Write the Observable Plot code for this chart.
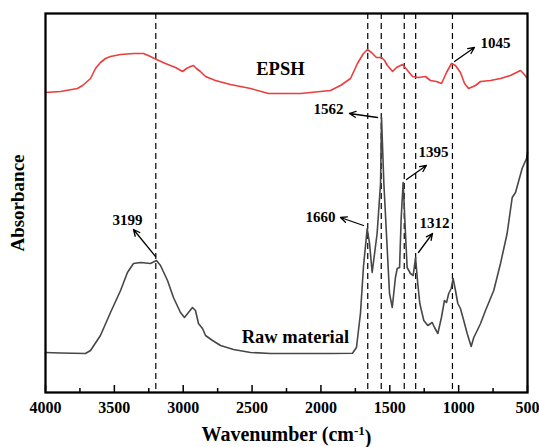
<!DOCTYPE html>
<html>
<head>
<meta charset="utf-8">
<script src="https://cdn.jsdelivr.net/npm/d3@7"></script>
<script src="https://cdn.jsdelivr.net/npm/@observablehq/plot@0.6"></script>
<style>
  html, body { margin: 0; padding: 0; background: #fff; }
  #chart svg { display: block; }
</style>
</head>
<body>
<div id="chart"></div>
<script>
// Wavenumber (cm-1) and absorbance (arbitrary units)
const epshWn = [4000,3891,3768,3731,3673,3637,3601,3564,3528,3455,3361,3288,3238,3194,3129,3056,3005,2976,2947,2925,2904,2875,2838,2766,2657,2511,2381,2148,1931,1858,1785,1735,1691,1662,1633,1597,1560,1538,1517,1480,1451,1408,1371,1335,1292,1241,1204,1161,1124,1088,1052,1023,987,957,928,878,841,769,696,624,551,529,500];
const epshAbs = [300,301,304,307,314,324,330,334,336,338,339,339,336,333,329,325,321,324,326,327,324,321,316,312,308,304,299,299,302,307,314,329,339,343,340,335,335,332,327,321,325,328,322,316,315,316,312,311,309,320,329,327,320,309,304,307,311,312,314,317,322,319,314];

const rawWn = [4000,3891,3710,3673,3601,3528,3455,3405,3361,3310,3238,3194,3165,3114,3071,3020,2991,2962,2933,2911,2889,2860,2838,2787,2729,2635,2511,2366,2148,1931,1771,1742,1713,1691,1664,1647,1628,1592,1567,1560,1543,1518,1502,1482,1459,1446,1429,1417,1403,1386,1374,1350,1330,1313,1297,1282,1253,1224,1192,1175,1151,1125,1103,1088,1072,1054,1040,1023,1006,987,963,938,909,890,865,841,805,745,696,648,611,587,563,539,507,500];
const rawAbs = [40,39.5,39,42,57,80,102,120,129,130,129,132,127,112,95,80,75,80,85,82,69,64,57,52,47,43,40,39,39,39,39.3,45,79,126,164,149,120,159,209,275,209,142,99,85,115,124,125,175,210,159,125,119,117,135,109,89,72,67,70,65,59,75,92,90,99,104,114,102,89,84,72,59,46,55,62,69,82,102,129,159,195,200,212,224,234,240];

const peakLines = [3199, 1660, 1562, 1395, 1312, 1045];
const majorTicks = [4000, 3500, 3000, 2500, 2000, 1500, 1000, 500];
const minorTicks = [3750, 3250, 2750, 2250, 1750, 1250, 750];

// annotation labels (position in wavenumber / absorbance units)
const peakLabels = ["3199", "1562", "1045", "1395", "1660", "1312"];
const labelWn  = [3405, 1945, 732, 1183, 2003, 1175];
const labelAbs = [172, 283, 349, 240, 175, 169];
const arrowFromWn  = [3201, 1589, 1030, 1379, 1691, 1292];
const arrowFromAbs = [136, 275, 331, 213, 167, 140];
const arrowToWn    = [3361, 1793, 885, 1234, 1858, 1190];
const arrowToAbs   = [163, 279, 345, 227, 175, 159];

const seriesNames = ["EPSH", "Raw material"];
const seriesLabelWn = [2294, 2185];
const seriesLabelAbs = [323, 55];

const epsh = epshWn.map((w, i) => ({wn: w, abs: epshAbs[i]}));
const raw = rawWn.map((w, i) => ({wn: w, abs: rawAbs[i]}));
const labels = peakLabels.map((t, i) => ({t, wn: labelWn[i], abs: labelAbs[i]}));
const arrows = peakLabels.map((t, i) => ({x1: arrowFromWn[i], y1: arrowFromAbs[i], x2: arrowToWn[i], y2: arrowToAbs[i]}));
const seriesText = seriesNames.map((t, i) => ({t, wn: seriesLabelWn[i], abs: seriesLabelAbs[i]}));

const serif = "'Liberation Serif', 'Times New Roman', serif";
const H = 447, mT = 13, mB = 55;
const inner = H - mT - mB;

const chart = Plot.plot({
  width: 539,
  height: H,
  marginLeft: 45,
  marginRight: 12,
  marginTop: mT,
  marginBottom: mB,
  style: {fontFamily: serif, background: "#fff", color: "#000"},
  x: {domain: [4000, 500], axis: null},
  y: {domain: [0, 379], axis: null},
  marks: [
    Plot.ruleX(peakLines, {x: d => d, stroke: "#000", strokeWidth: 1.2, strokeDasharray: "6,4"}),
    Plot.line(epsh, {x: "wn", y: "abs", stroke: "#ee3b3b", strokeWidth: 1.6}),
    Plot.line(raw, {x: "wn", y: "abs", stroke: "#474747", strokeWidth: 1.6}),
    Plot.arrow(arrows, {x1: "x1", y1: "y1", x2: "x2", y2: "y2", stroke: "#000", strokeWidth: 1.3, headLength: 8, headAngle: 50}),
    Plot.text(labels, {x: "wn", y: "abs", text: "t", fontSize: 15, fontWeight: "bold", fill: "#000"}),
    Plot.text(seriesText, {x: "wn", y: "abs", text: "t", fontSize: 18.5, fontWeight: "bold", fill: "#000"}),
    Plot.ruleX(majorTicks, {x: d => d, insetTop: inner - 7, stroke: "#000", strokeWidth: 1.5}),
    Plot.ruleX(minorTicks, {x: d => d, insetTop: inner - 4, stroke: "#000", strokeWidth: 1.5}),
    Plot.axisX({ticks: majorTicks, tickSize: 0, tickPadding: 9, tickFormat: d => String(d), label: null,
      fontSize: 16, fontWeight: "bold", fill: "#000"}),
    Plot.text(["Absorbance"], {frameAnchor: "left", dx: -28, rotate: -90, text: d => d,
      fontSize: 19, fontWeight: "bold", fill: "#000", textAnchor: "middle"}),
    Plot.text(["Wavenumber (cm-1)"], {frameAnchor: "bottom", dy: 48, lineAnchor: "bottom", text: d => d,
      fontSize: 20, fontWeight: "bold", fill: "#000", textAnchor: "middle"}),
    Plot.frame({stroke: "#000", strokeWidth: 2.3})
  ]
});

document.getElementById("chart").appendChild(chart);

// superscript -1 in the x label
d3.select(chart).selectAll("text").each(function () {
  if (this.textContent === "Wavenumber (cm-1)") {
    const t = d3.select(this);
    t.text(null);
    t.append("tspan").text("Wavenumber (cm");
    t.append("tspan").attr("dy", "-0.45em").attr("font-size", "13").text("-1");
    t.append("tspan").attr("dy", "0.45em").text(")");
  }
});
</script>
</body>
</html>
